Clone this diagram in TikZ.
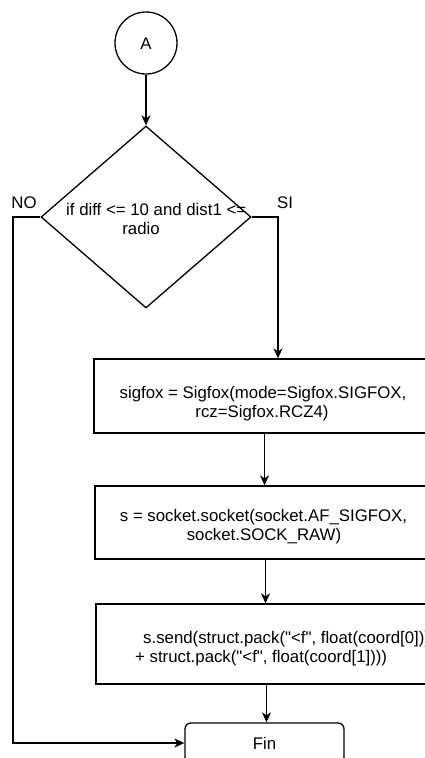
\documentclass[tikz,border=0pt]{standalone}
\usepackage{fontspec}
\setmainfont{Liberation Sans}[Ligatures=TeXOff]
\usetikzlibrary{shapes.geometric,arrows.meta}
\begin{document}
\begin{tikzpicture}[x=1pt,y=-1pt,
  every node/.style={font=\fontsize{16.8}{19.5}\selectfont, inner sep=0pt},
  ln/.style={line width=1.3pt, draw=black},
  arr/.style={ln, -{Stealth[length=10pt,width=9pt,inset=3pt]}},
  procbox/.style={ln, rectangle, minimum width=341pt},
  txt/.style={anchor=base}
]
\useasboundingbox (0,0) rectangle (425,758);
\clip (0,0) rectangle (425,758);
\fill[white] (0,0) rectangle (425,758);

% start connector
\node[ln, circle, minimum size=62pt] (A) at (146,43) {};
\node[txt] (Atxt) at (146,49) {A};

% decision
\node[ln, diamond, minimum width=210pt, minimum height=182pt] (dec) at (146,217) {};
\node[anchor=base west] (d1) at (66,215) {if diff <= 10 and dist1 <=};
\node[txt] (d2) at (141,234) {radio};
\node[txt] (no) at (24,208) {NO};
\node[txt] (si) at (285,208) {SI};

% process boxes
\node[procbox, minimum height=74pt] (b1) at (264.5,396) {};
\node[txt] (b1a) at (263,398) {sigfox = Sigfox(mode=Sigfox.SIGFOX,};
\node[txt] (b1b) at (262,417) {rcz=Sigfox.RCZ4)};

\node[procbox, minimum height=73pt] (b2) at (265.5,522.5) {};
\node[txt] (b2a) at (263.5,521) {s = socket.socket(socket.AF\_SIGFOX,};
\node[txt] (b2b) at (264,540) {socket.SOCK\_RAW)};

\node[procbox, minimum height=80pt] (b3) at (266.5,644) {};
\node[anchor=base west] (b3a) at (143,643) {s.send(struct.pack("<f", float(coord[0]))};
\node[anchor=base west] (b3b) at (135,662) {+ struct.pack("<f", float(coord[1])))};

% end
\node[ln, rectangle, rounded corners=6pt, minimum width=159pt, minimum height=40pt] (fin) at (264.5,743) {};
\node[txt] (fintxt) at (264.5,749) {Fin};

% connectors
\coordinate (nl) at (13,217);
\coordinate (sr) at (278,217);
\draw[arr] (A) -- (dec.north);
\draw[arr] (dec.east) -- (sr) -- (sr |- b1.north);
\draw[arr] (dec.west) -- (nl) |- (fin.west);
\draw[arr] (b1.south) -- (b1.south |- b2.north);
\draw[arr] (b2.south) -- (b2.south |- b3.north);
\draw[arr] (b3.south) -- (b3.south |- fin.north);
\end{tikzpicture}
\end{document}
